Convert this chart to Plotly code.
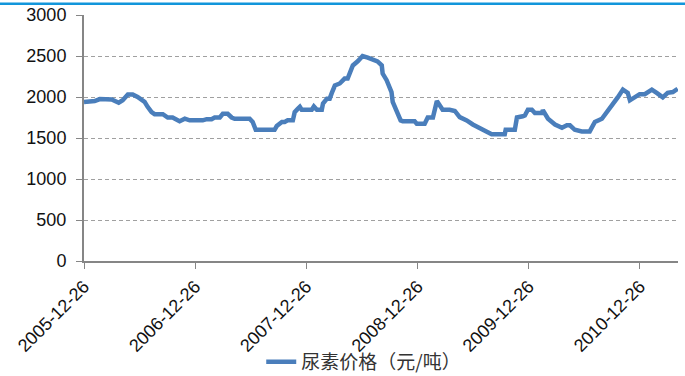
import plotly.graph_objects as go

# Weekly urea price (yuan/tonne), turning points of the series
dates = [
    "2005-12-26", "2006-01-30", "2006-02-16", "2006-03-27", "2006-04-19", "2006-05-02",
    "2006-05-19", "2006-06-04", "2006-06-20", "2006-07-13", "2006-07-23", "2006-08-05",
    "2006-08-15", "2006-09-11", "2006-09-27", "2006-10-13", "2006-11-05", "2006-11-22",
    "2006-12-08", "2007-01-20", "2007-02-02", "2007-02-18", "2007-02-28", "2007-03-17",
    "2007-03-27", "2007-04-12", "2007-04-25", "2007-05-05", "2007-06-23", "2007-07-03",
    "2007-07-13", "2007-09-13", "2007-09-20", "2007-10-07", "2007-10-16", "2007-10-26",
    "2007-11-12", "2007-11-18", "2007-11-28", "2007-12-05", "2007-12-11", "2008-01-13",
    "2008-01-20", "2008-01-30", "2008-02-15", "2008-02-19", "2008-03-03", "2008-03-12",
    "2008-03-19", "2008-03-29", "2008-04-14", "2008-04-30", "2008-05-10", "2008-05-23",
    "2008-05-27", "2008-06-12", "2008-06-28", "2008-07-15", "2008-07-31", "2008-08-16",
    "2008-08-30", "2008-09-02", "2008-09-15", "2008-10-01", "2008-10-05", "2008-10-18",
    "2008-10-31", "2008-11-07", "2008-12-16", "2008-12-23", "2009-01-18", "2009-01-28",
    "2009-02-14", "2009-02-27", "2009-03-08", "2009-03-18", "2009-04-10", "2009-04-27",
    "2009-05-13", "2009-06-05", "2009-06-25", "2009-07-18", "2009-08-03", "2009-08-26",
    "2009-10-08", "2009-10-11", "2009-11-10", "2009-11-17", "2009-12-06", "2009-12-13",
    "2009-12-23", "2010-01-05", "2010-01-15", "2010-02-07", "2010-02-10", "2010-02-27",
    "2010-03-22", "2010-04-14", "2010-04-30", "2010-05-10", "2010-05-26", "2010-06-18",
    "2010-07-14", "2010-07-31", "2010-08-23", "2010-09-08", "2010-09-28", "2010-10-14",
    "2010-10-31", "2010-11-16", "2010-11-23", "2010-12-09", "2010-12-25", "2011-01-11",
    "2011-02-03", "2011-02-19", "2011-03-11", "2011-03-27", "2011-04-13", "2011-04-29",
]
prices = [
    1940, 1950, 1975, 1970, 1930, 1960,
    2030, 2030, 2000, 1940, 1880, 1815,
    1790, 1790, 1750, 1750, 1705, 1735,
    1715, 1715, 1730, 1730, 1750, 1750,
    1795, 1795, 1750, 1735, 1735, 1695,
    1600, 1600, 1645, 1695, 1695, 1715,
    1715, 1815, 1855, 1880, 1845, 1845,
    1885, 1845, 1845, 1920, 1980, 1980,
    2050, 2140, 2165, 2225, 2225, 2345,
    2385, 2435, 2500, 2480, 2450, 2435,
    2385, 2285, 2205, 2060, 1940, 1815,
    1715, 1705, 1705, 1675, 1675, 1750,
    1750, 1950, 1900, 1845, 1845, 1830,
    1755, 1715, 1665, 1625, 1595, 1545,
    1545, 1600, 1600, 1750, 1765, 1775,
    1845, 1845, 1805, 1805, 1840, 1735,
    1665, 1625, 1655, 1655, 1600, 1580,
    1580, 1695, 1735, 1815, 1900, 1995,
    2090, 2050, 1960, 1995, 2035, 2035,
    2090, 2050, 1995, 2050, 2060, 2100,
]

year_ticks = ["2005-12-26", "2006-12-26", "2007-12-26",
              "2008-12-26", "2009-12-26", "2010-12-26"]
y_ticks = [0, 500, 1000, 1500, 2000, 2500, 3000]

series_name = "尿素价格（元/吨）"

fig = go.Figure()
fig.add_trace(go.Scatter(
    x=dates, y=prices, mode="lines", name=series_name,
    line=dict(color="#4a7ebb", width=4.5),
))

# Blue header rule across the page, on its own hidden strip of axes
fig.add_trace(go.Scatter(
    x=[0, 1], y=[0.5, 0.5], mode="lines", xaxis="x2", yaxis="y2",
    line=dict(color="#1296db", width=2.5), showlegend=False,
    hoverinfo="skip", cliponaxis=False,
))

axis_grey = "#868686"
# The paper spans the full width and the top of the page; the axes sit inside it
fig.update_layout(
    width=685, height=376,
    margin=dict(l=0, r=0, t=0, b=115, autoexpand=False),
    paper_bgcolor="white", plot_bgcolor="white",
    font=dict(family="Arial, Liberation Sans, sans-serif", size=18, color="#111111"),
    showlegend=True,
    legend=dict(
        orientation="h", x=0.531, xanchor="center", y=-0.387, yanchor="middle",
        font=dict(family="Noto Sans CJK SC", size=19, color="#333333"),
        bgcolor="rgba(0,0,0,0)",
    ),
    xaxis=dict(
        domain=[84 / 685, 678 / 685],
        type="date", range=["2005-12-26", "2011-04-30"],
        tickvals=year_ticks, ticktext=year_ticks, tickangle=-45,
        showgrid=False, zeroline=False, automargin=False,
        showline=True, linecolor=axis_grey, linewidth=2,
        ticks="outside", ticklen=6, tickcolor=axis_grey, tickwidth=1,
    ),
    yaxis=dict(
        domain=[0, 246 / 261],
        range=[0, 3000], tickvals=y_ticks, automargin=False,
        showgrid=True, gridcolor="#a0a0a0", griddash="4px,3px", gridwidth=1,
        zeroline=False,
        showline=True, linecolor=axis_grey, linewidth=2,
        ticks="outside", ticklen=6, tickcolor=axis_grey, tickwidth=1,
        ticklabelstandoff=6,
    ),
    xaxis2=dict(domain=[0, 1], range=[0, 1], anchor="y2", visible=False,
                fixedrange=True),
    yaxis2=dict(domain=[253.4 / 261, 261 / 261], range=[0, 1], anchor="x2",
                visible=False, fixedrange=True),
)

fig.write_html("out.html")
